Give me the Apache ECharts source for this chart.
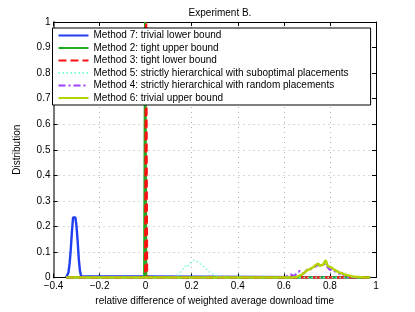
<!DOCTYPE html>
<html>
<head>
<meta charset="utf-8">
<script src="https://cdn.jsdelivr.net/npm/echarts@6/dist/echarts.min.js"></script>
<style>html,body{margin:0;padding:0;background:#fff}#c{width:415px;height:312px}</style>
</head>
<body>
<div id="c"></div>
<script>
var titleText = 'Experiment B.';
var xAxisName = 'relative difference of weighted average download time';
var yAxisName = 'Distribution';
var seriesNames = [
  'Method 7: trivial lower bound',
  'Method 2: tight upper bound',
  'Method 3: tight lower bound',
  'Method 5: strictly hierarchical with suboptimal placements',
  'Method 4: strictly hierarchical with random placements',
  'Method 6: trivial upper bound'
];
var xTicks = [-0.4, -0.2, 0, 0.2, 0.4, 0.6, 0.8, 1];
var yTicks = [0, 0.1, 0.2, 0.3, 0.4, 0.5, 0.6, 0.7, 0.8, 0.9, 1];

// Method 7
var m7X = [-0.345, -0.34, -0.335, -0.33, -0.325, -0.32, -0.315, -0.31, -0.305, -0.30, -0.295, -0.29, -0.285, -0.28, -0.275, 0.975];
var m7Y = [0, 0.005, 0.02, 0.055, 0.11, 0.18, 0.235, 0.24, 0.235, 0.2, 0.14, 0.07, 0.025, 0.005, 0, 0];
// Method 2
var m2X = [-0.345, -0.006, -0.002, 0.002, 0.975];
var m2Y = [0, 0, 1, 0, 0];
// Method 3
var m3X = [-0.345, -0.002, 0.002, 0.006, 0.975];
var m3Y = [0, 0, 1, 0, 0];
// Method 5
var m5X = [-0.345, 0.13, 0.14, 0.15, 0.16, 0.17, 0.18, 0.19, 0.20, 0.21, 0.22, 0.23, 0.24, 0.25, 0.26, 0.27, 0.28, 0.29, 0.30, 0.31, 0.32, 0.33, 0.34, 0.35, 0.975];
var m5Y = [0, 0, 0.01, 0.02, 0.03, 0.045, 0.04, 0.055, 0.062, 0.068, 0.066, 0.058, 0.05, 0.045, 0.035, 0.028, 0.02, 0.014, 0.01, 0.006, 0.004, 0.002, 0.002, 0, 0];
// Method 4
var m4X = [-0.345, 0.60, 0.61, 0.62, 0.63, 0.64, 0.65, 0.66, 0.67, 0.68, 0.69, 0.70, 0.71, 0.72, 0.73, 0.74, 0.75, 0.76, 0.77, 0.78, 0.79, 0.80, 0.81, 0.82, 0.83, 0.84, 0.85, 0.86, 0.87, 0.88, 0.89, 0.90, 0.91, 0.975];
var m4Y = [0, 0, 0.003, 0.008, 0.012, 0.006, 0.01, 0.022, 0.025, 0.015, 0.018, 0.03, 0.028, 0.035, 0.04, 0.045, 0.05, 0.048, 0.05, 0.055, 0.04, 0.03, 0.033, 0.025, 0.02, 0.015, 0.018, 0.01, 0.006, 0.003, 0.002, 0.002, 0, 0];
// Method 6
var m6X = [-0.345, 0.64, 0.65, 0.66, 0.67, 0.68, 0.69, 0.70, 0.71, 0.72, 0.73, 0.74, 0.75, 0.755, 0.76, 0.77, 0.775, 0.78, 0.785, 0.79, 0.80, 0.81, 0.82, 0.83, 0.84, 0.85, 0.86, 0.87, 0.88, 0.89, 0.90, 0.91, 0.92, 0.93, 0.94, 0.95, 0.975];
var m6Y = [0, 0, 0.002, 0.004, 0.008, 0.012, 0.02, 0.028, 0.032, 0.036, 0.042, 0.05, 0.055, 0.046, 0.052, 0.05, 0.058, 0.068, 0.06, 0.045, 0.042, 0.037, 0.03, 0.025, 0.02, 0.017, 0.013, 0.01, 0.008, 0.006, 0.004, 0.003, 0.002, 0.001, 0.001, 0, 0];

function pairs(xs, ys) { return xs.map(function (x, i) { return [x, ys[i]]; }); }

var FONT = 'Liberation Sans, Arial, Helvetica, sans-serif';
var styles = [
  { color: '#1f3ff0', width: 2.4, type: 'solid' },
  { color: '#22aa22', width: 2.4, type: 'solid' },
  { color: '#ff1010', width: 2.4, type: [8, 4] },
  { color: '#80ffd4', width: 1.6, type: [1.5, 2.5] },
  { color: '#9f3fff', width: 2.2, type: [7, 3, 2, 3] },
  { color: '#b4d400', width: 2.4, type: 'solid' }
];
var datas = [pairs(m7X, m7Y), pairs(m2X, m2Y), pairs(m3X, m3Y), pairs(m5X, m5Y), pairs(m4X, m4Y), pairs(m6X, m6Y)];

var series = seriesNames.map(function (n, i) {
  return {
    name: n, type: 'line', data: datas[i], symbol: 'none', showSymbol: false,
    lineStyle: styles[i], itemStyle: { color: styles[i].color },
    z: 2, clip: true, animation: false
  };
});

var chart = echarts.init(document.getElementById('c'), null, { renderer: 'canvas' });
var gridLine = { show: true, lineStyle: { color: '#b0b0b0', type: [1, 4], width: 1 } };
chart.setOption({
  animation: false,
  backgroundColor: '#fff',
  title: {
    text: titleText, left: 215, top: 3, textAlign: 'center',
    textStyle: { fontFamily: FONT, fontSize: 10, fontWeight: 'normal', color: '#000' }
  },
  grid: { left: 53.5, right: 39, top: 22, bottom: 34.5, containLabel: false },
  legend: {
    orient: 'vertical', left: 52.5, top: 28, z: 20,
    itemWidth: 30, itemHeight: 10, itemGap: 2.5,
    padding: [2.5, 22, 2, 5],
    borderColor: '#000', borderWidth: 1, backgroundColor: '#fff',
    itemStyle: { opacity: 0, borderWidth: 0 },
    textStyle: { fontFamily: FONT, fontSize: 10, color: '#000' },
    data: seriesNames
  },
  xAxis: [{
    type: 'value', min: -0.4, max: 1, interval: 0.2,
    name: xAxisName, nameLocation: 'middle', nameGap: 12,
    nameTextStyle: { fontFamily: FONT, fontSize: 10, color: '#000' },
    axisLine: { onZero: false, lineStyle: { color: '#000', width: 1 } },
    axisTick: { inside: true, length: 4, lineStyle: { color: '#000' } },
    axisLabel: { fontFamily: FONT, fontSize: 10, color: '#000', margin: 4,
      formatter: function (v) { var s = String(+v.toFixed(2)); return s.replace('-', '\u2212'); } },
    splitLine: gridLine
  }, {
    type: 'value', min: -0.4, max: 1, interval: 0.2, position: 'top',
    axisLine: { onZero: false, lineStyle: { color: '#000', width: 1 } },
    axisTick: { inside: true, length: 4, lineStyle: { color: '#000' } },
    axisLabel: { show: false }, splitLine: { show: false }
  }],
  yAxis: [{
    type: 'value', min: 0, max: 1, interval: 0.1,
    name: yAxisName, nameLocation: 'middle', nameGap: 31, nameRotate: 90,
    nameTextStyle: { fontFamily: FONT, fontSize: 10, color: '#000' },
    axisLine: { show: true, onZero: false, lineStyle: { color: '#777', width: 2 } },
    axisTick: { show: true, inside: true, length: 4, lineStyle: { color: '#000' } },
    axisLabel: { fontFamily: FONT, fontSize: 10, color: '#000', margin: 3,
      formatter: function (v) { return String(+v.toFixed(2)); } },
    splitLine: gridLine
  }, {
    type: 'value', min: 0, max: 1, interval: 0.1, position: 'right',
    axisLine: { show: true, onZero: false, lineStyle: { color: '#000', width: 1 } },
    axisTick: { show: true, inside: true, length: 4, lineStyle: { color: '#000' } },
    axisLabel: { show: false }, splitLine: { show: false }
  }],
  series: series
});
</script>
</body>
</html>
